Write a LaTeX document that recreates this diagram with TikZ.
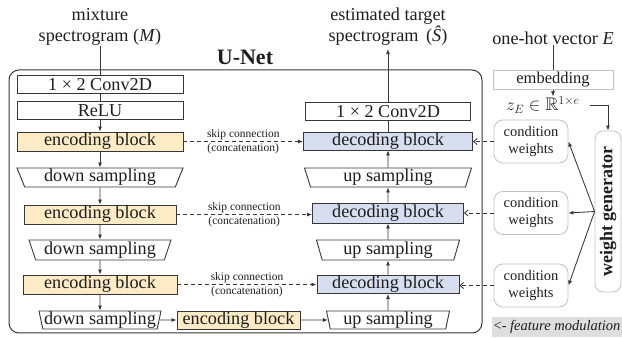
\documentclass[tikz,border=0pt]{standalone}
\usepackage{amssymb}
\usepackage{fontspec}
\setmainfont{Liberation Serif}
\usetikzlibrary{shapes.geometric,arrows.meta,calc}

\definecolor{lc}{HTML}{363636}
\definecolor{encfill}{HTML}{FCEBC4}
\definecolor{decfill}{HTML}{D6DEF0}
\definecolor{soft}{HTML}{C2C2C2}
\definecolor{fmfill}{HTML}{DEDEDE}
\definecolor{txt}{HTML}{1E1E1E}

\newcommand\fsMain{\fontsize{18.2}{21}\selectfont}
\newcommand\fsTitle{\fontsize{22}{26}\selectfont\bfseries}
\newcommand\fsSkip{\fontsize{11.5}{13}\selectfont}
\newcommand\fsCond{\fontsize{14.5}{17}\selectfont}
\newcommand\fsEmb{\fontsize{16.5}{20}\selectfont}
\newcommand\fsWG{\fontsize{18}{20}\selectfont\bfseries}
\newcommand\fsFM{\fontsize{14.5}{17}\selectfont}

\begin{document}
\begin{tikzpicture}[x=1pt,y=-1pt,
  every node/.style={text=txt},
  blk/.style={rectangle, draw=lc, line width=0.9pt, inner sep=0pt, minimum height=19pt, font=\fsMain},
  encblk/.style={blk, fill=encfill},
  decblk/.style={blk, fill=decfill},
  samp/.style={trapezium, shape border rotate=180, trapezium stretches body, draw=lc, line width=0.9pt, inner sep=0pt, minimum height=19pt, font=\fsMain, fill=white},
  lbl/.style={inner sep=0pt, font=\fsMain},
  conn/.style={draw=lc, line width=0.85pt},
  arr/.style={conn, -{Latex[length=5pt,width=4pt]}},
  skiparr/.style={arr, dash pattern=on 4pt off 3pt},
  modarr/.style={conn, dash pattern=on 4pt off 3pt, -{Straight Barb[length=3.5pt,width=6pt]}},
  skiplbl/.style={font=\fsSkip, inner sep=1.2pt},
  softbox/.style={draw=soft, line width=0.8pt},
  cond/.style={softbox, rounded corners=9pt, minimum width=74pt, minimum height=43pt, align=center, font=\fsCond, inner sep=0pt},
]
\useasboundingbox (0,0) rectangle (622,339);

% U-Net frame and title
\draw[lc, line width=1pt, rounded corners=10pt] (9,70) rectangle (482,333);
\node[font=\fsTitle, inner sep=0pt] (unet) at (245,57) {U-Net};

% input / output captions
\node[lbl, anchor=base] (mix1) at (100,21) {mixture};
\node[lbl, anchor=base] (mix2) at (100,42) {spectrogram (\textit{M})};
\node[lbl, anchor=base] (est1) at (388,21) {estimated target};
\node[lbl, anchor=base] (est2) at (388,42) {spectrogram \,(\textit{Ŝ})};

% encoder column
\node[blk, minimum width=166pt, minimum height=18pt] (conv1) at (100,84.5) {1 × 2 Conv2D};
\node[blk, minimum width=166pt, minimum height=18pt] (relu) at (100,110.5) {ReLU};
\node[encblk, minimum width=166pt] (enc1) at (100,141.5) {encoding block};
\node[samp, trapezium angle=65, minimum width=166pt] (ds1) at (100,177.5) {down sampling};
\node[encblk, minimum width=152pt] (enc2) at (100,214.5) {encoding block};
\node[samp, trapezium angle=68, minimum width=142pt, minimum height=20pt] (ds2) at (100,250) {down sampling};
\node[encblk, minimum width=154pt] (enc3) at (100,284.5) {encoding block};
\node[samp, trapezium angle=77, minimum width=122pt, minimum height=18pt] (ds3) at (100,320) {down sampling};

% bottleneck
\node[encblk, minimum width=123pt, minimum height=18pt] (encb) at (238.5,320) {encoding block};

% decoder column
\node[samp, trapezium angle=77, minimum width=123pt, minimum height=18pt] (us3) at (388,320) {up sampling};
\node[decblk, minimum width=142pt, minimum height=18pt] (dec3) at (388,284.5) {decoding block};
\node[samp, trapezium angle=71, minimum width=143pt, minimum height=20pt] (us2) at (388,250) {up sampling};
\node[decblk, minimum width=151pt, minimum height=20pt] (dec2) at (388,213) {decoding block};
\node[samp, trapezium angle=70, minimum width=167pt] (us1) at (388,177.5) {up sampling};
\node[decblk, minimum width=169pt, minimum height=18pt] (dec1) at (388,141) {decoding block};
\node[blk, minimum width=165pt, minimum height=18pt] (conv2) at (388,111.5) {1 × 2 Conv2D};

% encoder flow
\draw[conn] (mix2.south) -- (conv1.north);
\draw[conn] (conv1) -- (relu);
\draw[arr] (relu) -- (enc1);
\draw[arr] (enc1) -- (ds1);
\draw[arr] (ds1) -- (enc2);
\draw[arr] (enc2) -- (ds2);
\draw[arr] (ds2) -- (enc3);
\draw[arr] (enc3) -- (ds3);
\draw[arr] (ds3) -- (encb);
\draw[arr] (encb) -- (us3);

% decoder flow
\draw[arr] (us3) -- (dec3);
\draw[arr] (dec3) -- (us2);
\draw[arr] (us2) -- (dec2);
\draw[arr] (dec2) -- (us1);
\draw[arr] (us1) -- (dec1);
\draw[conn] (dec1) -- (conv2);
\draw[arr, shorten >=3pt] (conv2.north) -- (est2.south);

% skip connections
\draw[skiparr] (enc1.east) -- (enc1.east -| dec1.west)
  node[midway, above, skiplbl] (sk1a) {skip connection}
  node[midway, below, skiplbl] (sk1b) {(concatenation)};
\draw[skiparr] (enc2.east) -- (enc2.east -| dec2.west)
  node[midway, above, skiplbl] (sk2a) {skip connection}
  node[midway, below, skiplbl] (sk2b) {(concatenation)};
\draw[skiparr] (enc3.east) -- (enc3.east -| dec3.west)
  node[midway, above, skiplbl] (sk3a) {skip connection}
  node[midway, below, skiplbl] (sk3b) {(concatenation)};

% conditioning branch
\node[lbl, anchor=base] (onehot) at (553,45) {one-hot vector \textit{E}};
\node[softbox, minimum width=120pt, minimum height=19pt, inner sep=0pt, font=\fsEmb] (embed) at (553,80) {embedding};
\node[lbl] (zE) at (543,105) {$z_E \in \mathbb{R}^{1\times e}$};
\node[softbox, rounded corners=8pt, minimum width=26pt, minimum height=161pt, inner sep=0pt] (wg) at (608,211.5) {};
\node[rotate=90, font=\fsWG, inner sep=0pt] (wgtext) at (wg.center) {weight generator};

\node[cond] (cw1) at (531,141.5) {condition\\weights};
\node[cond] (cw2) at (531,213) {condition\\weights};
\node[cond] (cw3) at (531,285.5) {condition\\weights};

\draw[conn] (onehot.south) -- (embed.north);
\draw[arr] (embed.south) -- (embed.south |- zE.north);
\draw[arr, shorten <=10pt] (zE.east) -| (wg.north);
\draw[arr] (wg.west) -- (cw1.east);
\draw[arr] (wg.west) -- (cw2.east);
\draw[arr] (wg.west) -- (cw3.east);

% feature modulation
\draw[modarr] (cw1.west) -- (cw1.west -| dec1.east);
\draw[modarr] (cw2.west) -- (cw2.west -| dec2.east);
\draw[modarr] (cw3.west) -- (cw3.west -| dec3.east);
\node[fill=fmfill, minimum width=130pt, minimum height=20pt, inner sep=0pt, font=\fsFM] (fm) at (557,327) {<- \textit{feature modulation}};
\end{tikzpicture}
\end{document}
